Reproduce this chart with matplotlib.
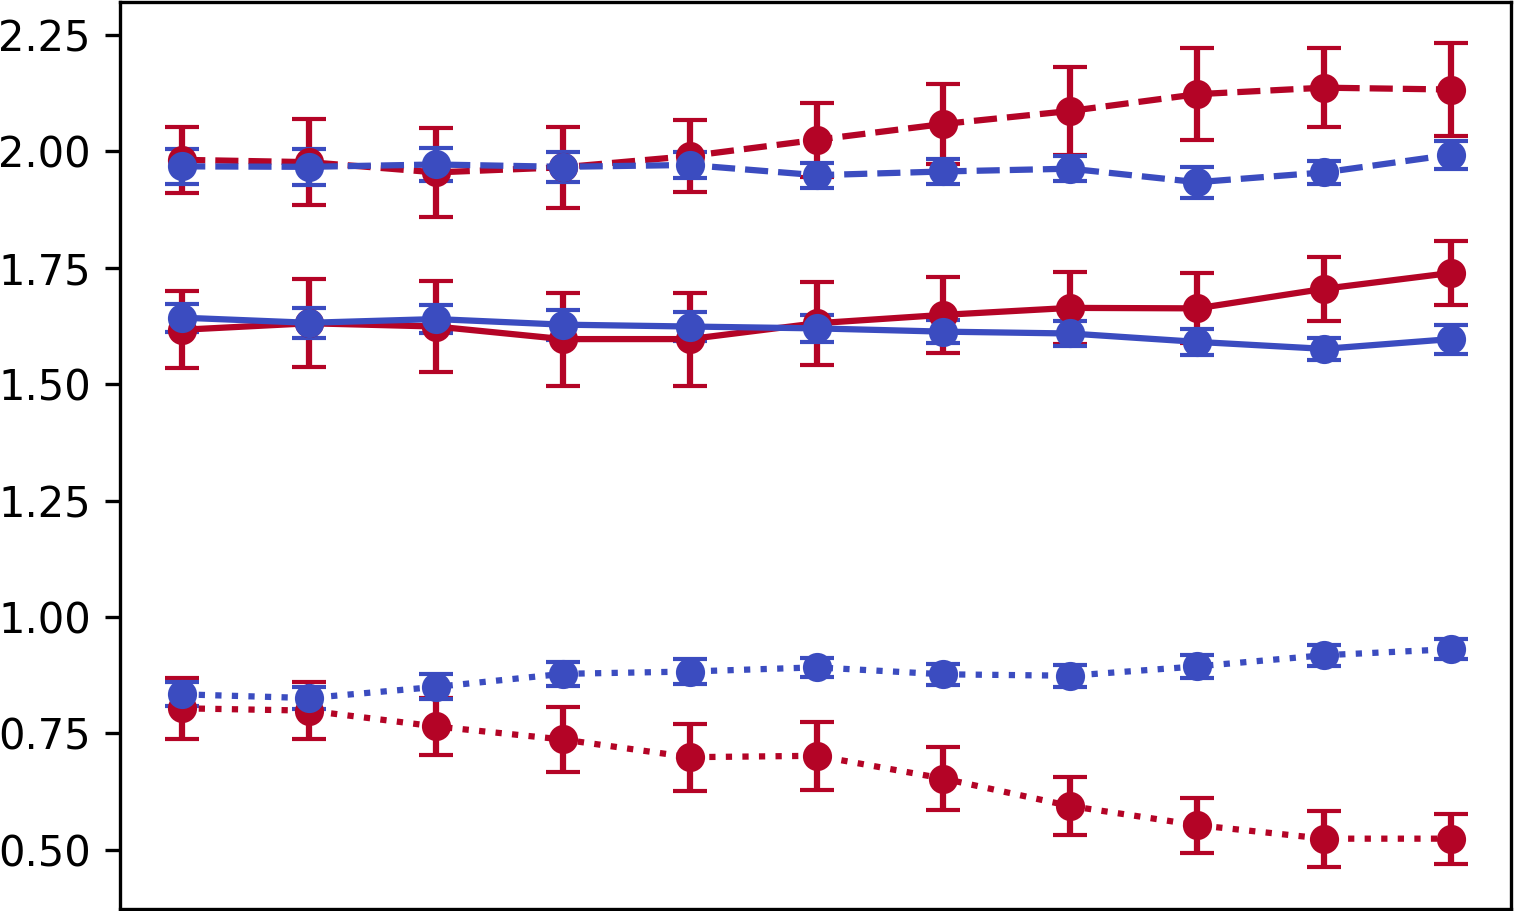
import numpy as np
import matplotlib
matplotlib.use("Agg")
import matplotlib.pyplot as plt

x = np.arange(11)

red = "#b40426"
blue = "#3b4cc0"

# solid
red_solid = [1.617, 1.631, 1.624, 1.597, 1.597, 1.631, 1.649, 1.664, 1.663, 1.705, 1.739]
red_solid_err = [0.083, 0.095, 0.098, 0.100, 0.100, 0.089, 0.082, 0.077, 0.075, 0.069, 0.069]
blue_solid = [1.643, 1.632, 1.640, 1.628, 1.624, 1.620, 1.613, 1.609, 1.591, 1.576, 1.597]
blue_solid_err = [0.030, 0.032, 0.031, 0.032, 0.032, 0.029, 0.024, 0.027, 0.028, 0.024, 0.031]

# dashed
red_dashed = [1.982, 1.977, 1.955, 1.966, 1.990, 2.025, 2.059, 2.087, 2.123, 2.137, 2.133]
red_dashed_err = [0.071, 0.093, 0.095, 0.087, 0.077, 0.079, 0.086, 0.095, 0.099, 0.085, 0.099]
blue_dashed = [1.968, 1.967, 1.972, 1.967, 1.971, 1.949, 1.957, 1.963, 1.934, 1.955, 1.993]
blue_dashed_err = [0.038, 0.039, 0.035, 0.032, 0.027, 0.027, 0.027, 0.027, 0.033, 0.025, 0.030]

# dotted
red_dotted = [0.804, 0.799, 0.765, 0.737, 0.699, 0.702, 0.653, 0.594, 0.553, 0.524, 0.524]
red_dotted_err = [0.065, 0.062, 0.062, 0.069, 0.072, 0.073, 0.068, 0.063, 0.059, 0.060, 0.054]
blue_dotted = [0.834, 0.826, 0.850, 0.878, 0.883, 0.892, 0.877, 0.874, 0.894, 0.918, 0.931]
blue_dotted_err = [0.026, 0.024, 0.027, 0.026, 0.026, 0.021, 0.023, 0.024, 0.025, 0.023, 0.021]

W, H = 1517, 911
fig = plt.figure(figsize=(W / 300, H / 300), dpi=300)
ax = fig.add_axes([120 / W, 1 - 908.5 / H, (1510.5 - 120) / W, (908.5 - 2) / H])

series = [
    (red_solid, red_solid_err, red, "-"),
    (red_dashed, red_dashed_err, red, "--"),
    (red_dotted, red_dotted_err, red, ":"),
    (blue_solid, blue_solid_err, blue, "-"),
    (blue_dashed, blue_dashed_err, blue, "--"),
    (blue_dotted, blue_dotted_err, blue, ":"),
]
for y, e, c, ls in series:
    ax.errorbar(x, y, yerr=e, color=c, ls=ls, lw=1.5, marker="o", ms=6,
                capsize=4, elinewidth=1.5)

ax.set_xlim(-0.49, 10.47)
ax.set_ylim(0.374, 2.321)
ax.set_yticks([0.50, 0.75, 1.00, 1.25, 1.50, 1.75, 2.00, 2.25])
ax.set_xticks([])

fig.savefig("out.png", dpi=300)
